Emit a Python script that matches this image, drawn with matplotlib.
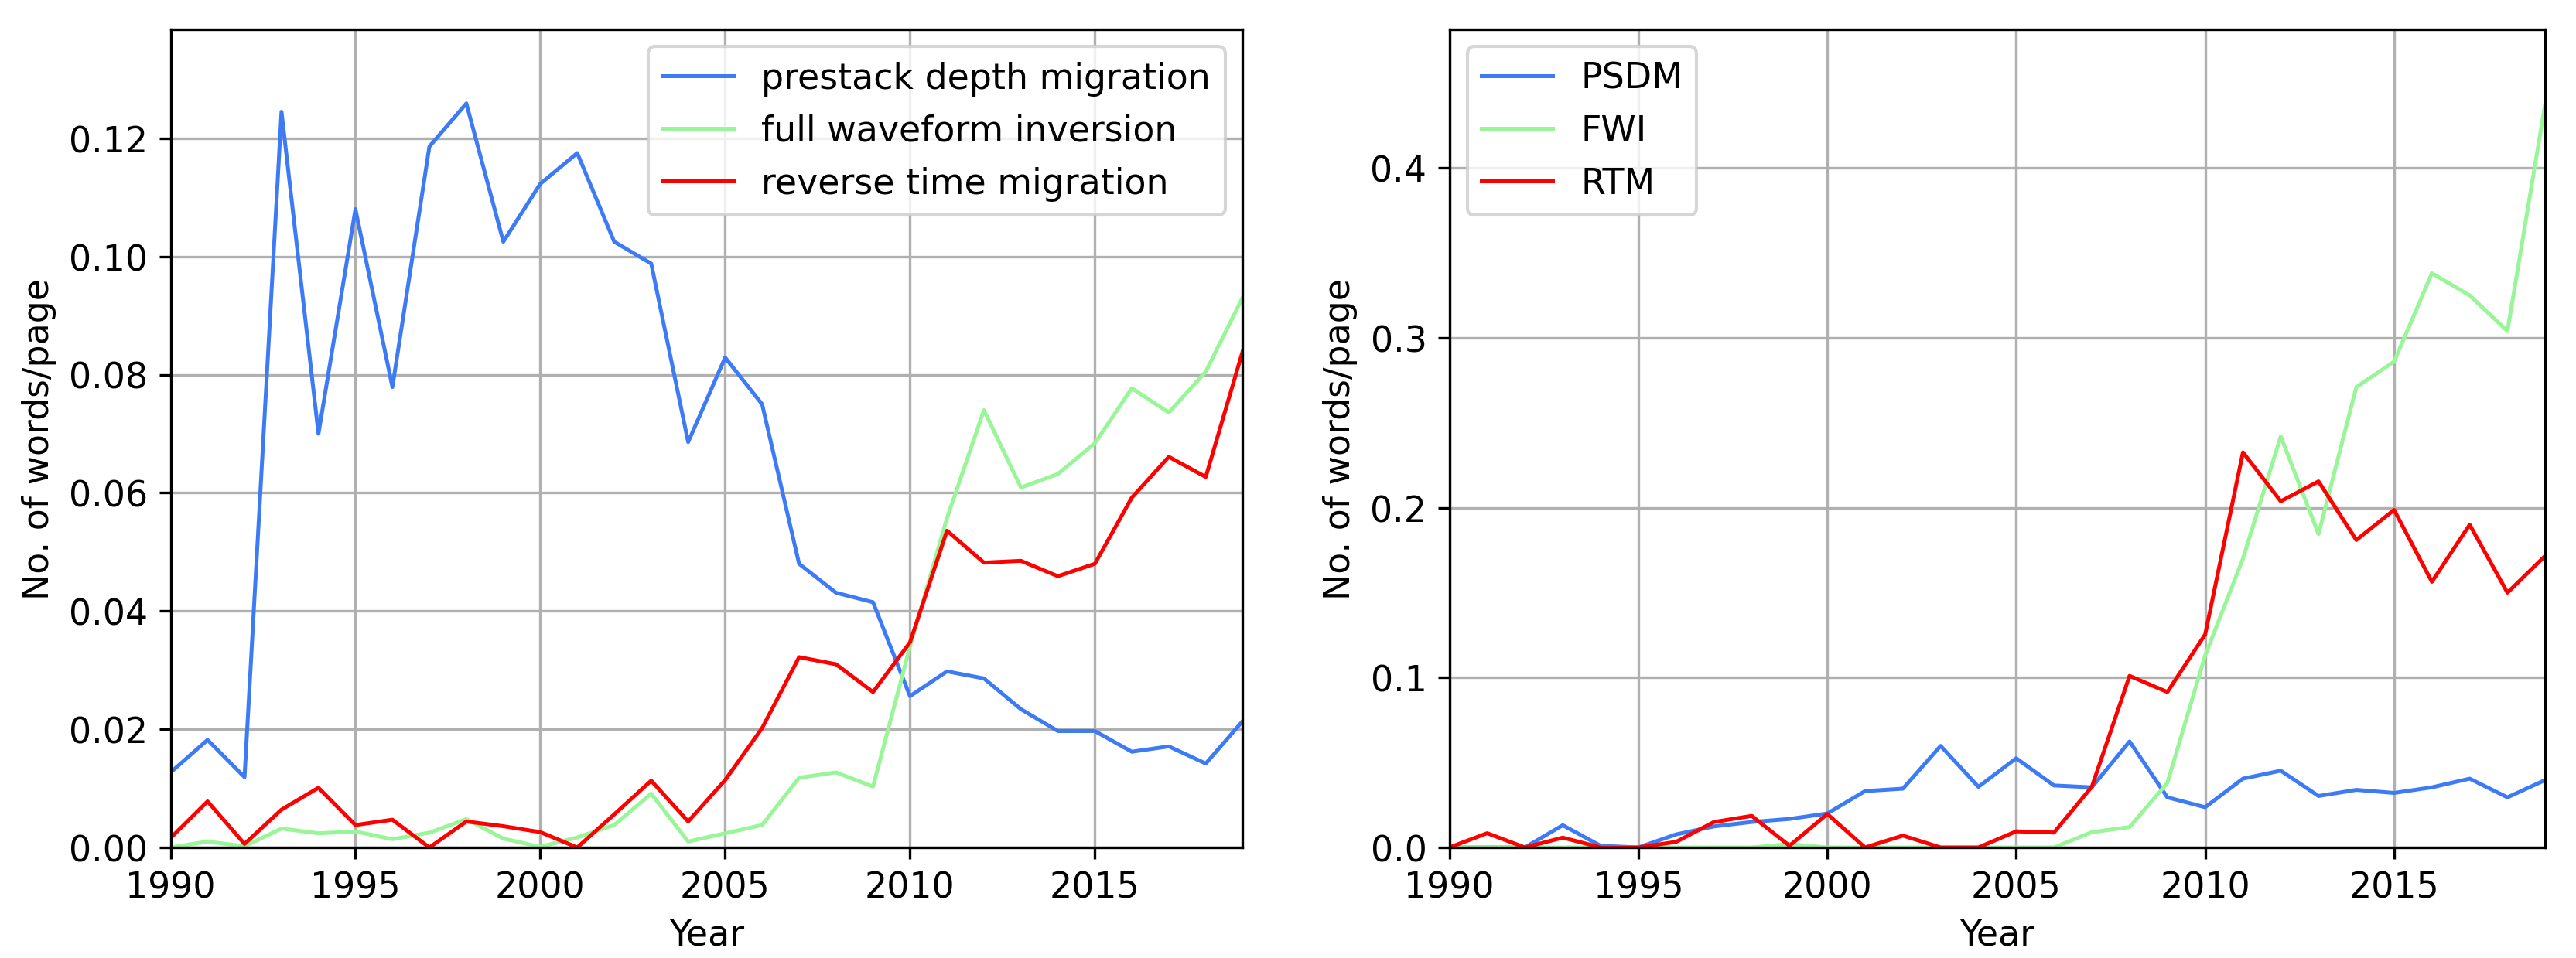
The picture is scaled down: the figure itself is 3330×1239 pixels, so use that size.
import matplotlib.pyplot as plt
import numpy as np

# years covered by both panels
years = np.arange(1990, 2020)

# left panel: full phrases
pdm_long = [0.0127, 0.0182, 0.0119, 0.1245, 0.0700, 0.1080, 0.0779, 0.1186, 0.1259, 0.1025,
            0.1123, 0.1175, 0.1025, 0.0988, 0.0686, 0.0829, 0.0750, 0.0480, 0.0431, 0.0415,
            0.0256, 0.0298, 0.0286, 0.0234, 0.0197, 0.0197, 0.0162, 0.0171, 0.0142, 0.0214]
fwi_long = [0.0000, 0.0010, 0.0002, 0.0032, 0.0024, 0.0027, 0.0014, 0.0025, 0.0048, 0.0015,
            0.0001, 0.0017, 0.0038, 0.0091, 0.0010, 0.0024, 0.0038, 0.0118, 0.0127, 0.0103,
            0.0340, 0.0557, 0.0740, 0.0609, 0.0632, 0.0684, 0.0777, 0.0736, 0.0805, 0.0931]
rtm_long = [0.0016, 0.0078, 0.0006, 0.0064, 0.0101, 0.0038, 0.0047, 0.0000, 0.0044, 0.0036,
            0.0026, 0.0000, 0.0056, 0.0113, 0.0044, 0.0114, 0.0202, 0.0322, 0.0310, 0.0263,
            0.0347, 0.0536, 0.0482, 0.0485, 0.0459, 0.0480, 0.0592, 0.0661, 0.0627, 0.0840]

# right panel: abbreviations
psdm = [0.000, 0.000, 0.000, 0.0131, 0.0010, 0.000, 0.0077, 0.0124, 0.0150, 0.0168,
        0.0200, 0.0332, 0.0346, 0.0598, 0.0357, 0.0525, 0.0365, 0.0354, 0.0624, 0.0295,
        0.0237, 0.0405, 0.0452, 0.0303, 0.0339, 0.0321, 0.0354, 0.0405, 0.0295, 0.0397]
fwi = [0.000, 0.000, 0.000, 0.000, 0.000, 0.000, 0.000, 0.000, 0.000, 0.0020,
       0.000, 0.000, 0.000, 0.000, 0.000, 0.000, 0.000, 0.0090, 0.0120, 0.0380,
       0.1130, 0.1700, 0.2420, 0.1845, 0.2710, 0.2860, 0.3380, 0.3250, 0.3040, 0.4380]
rtm = [0.000, 0.0084, 0.000, 0.0058, 0.000, 0.000, 0.0033, 0.0150, 0.0186, 0.0010,
       0.0197, 0.000, 0.0070, 0.000, 0.000, 0.0095, 0.0088, 0.0357, 0.1010, 0.0915,
       0.1254, 0.2326, 0.2038, 0.2155, 0.1810, 0.1987, 0.1564, 0.1900, 0.1500, 0.1717]

labels_long = ['prestack depth migration', 'full waveform inversion', 'reverse time migration']
labels_short = ['PSDM', 'FWI', 'RTM']
colors = ['#3d7af5', '#98f598', '#ff0000']

plt.rcParams['font.size'] = 11

fig = plt.figure(figsize=(11.103, 4.133), dpi=300)
ax1 = fig.add_axes([0.0662, 0.1153, 0.4161, 0.8537])
ax2 = fig.add_axes([0.5625, 0.1153, 0.4253, 0.8537])

for ax, series, labels, loc in [(ax1, [pdm_long, fwi_long, rtm_long], labels_long, 'upper right'),
                                (ax2, [psdm, fwi, rtm], labels_short, 'upper left')]:
    for s, lab, c in zip(series, labels, colors):
        ax.plot(years, s, color=c, lw=1.2, label=lab)
    ymax = max(max(s) for s in series)
    ax.set_xlim(1990, 2019)
    ax.set_ylim(0, 1.1 * ymax)
    ax.grid(True)
    ax.set_xlabel('Year')
    ax.set_ylabel('No. of words/page')
    ax.legend(loc=loc)

ax2.set_yticks([0.0, 0.1, 0.2, 0.3, 0.4])

fig.savefig('out.png', dpi=300)
